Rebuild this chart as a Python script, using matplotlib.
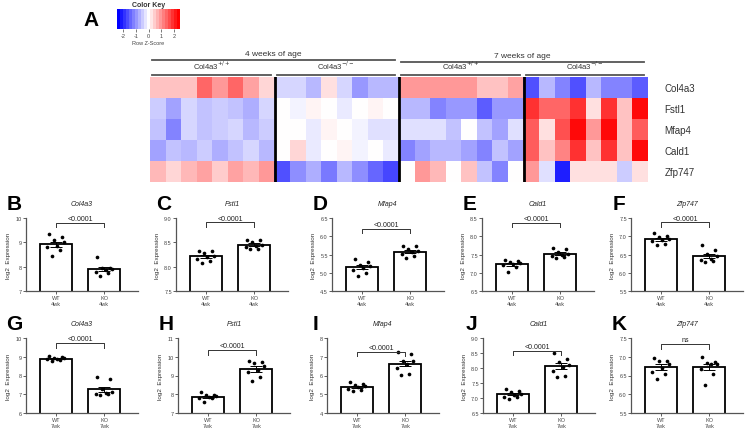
import numpy as np
import matplotlib.pyplot as plt
from matplotlib.colors import LinearSegmentedColormap
from matplotlib.transforms import blended_transform_factory

plt.rcParams['font.family'] = ['Liberation Sans', 'DejaVu Sans']

# ---- heatmap (row z-scores), rows = genes, 8 samples per group
genes = ['Col4a3', 'Fstl1', 'Mfap4', 'Cald1', 'Zfp747']
z_wt_4wk = [[0.6, 0.6, 0.6, 1.5, 1.0, 1.5, 0.9, 0.4],
            [-0.5, -0.9, -0.4, -0.6, -0.5, -0.6, -0.8, -0.4],
            [-0.6, -1.2, -0.4, -0.6, -0.5, -0.4, -0.7, -0.5],
            [-0.9, -0.6, -0.7, -0.5, -0.8, -0.6, -0.4, -0.7],
            [0.7, 0.4, 0.7, 0.9, 0.5, 0.9, 0.7, 1.0]]
z_ko_4wk = [[-0.4, -0.4, -0.7, 0.3, -0.4, -1.0, -0.7, -0.7],
            [0.0, -0.1, 0.1, 0.0, -0.2, 0.0, 0.1, 0.0],
            [0.0, 0.0, -0.2, 0.1, 0.0, -0.1, -0.3, -0.3],
            [0.0, 0.4, -0.2, 0.0, 0.1, -0.1, 0.0, -0.2],
            [-1.7, -1.1, -0.8, -1.3, -0.7, -1.1, -1.5, -1.8]]
z_wt_7wk = [[1.0, 1.0, 1.0, 1.0, 1.0, 0.6, 0.6, 0.9],
            [-0.7, -0.7, -1.2, -1.0, -1.0, -1.6, -1.0, -1.0],
            [-0.3, -0.3, -0.3, -0.6, 0.0, -0.6, -0.9, -0.3],
            [-1.2, -0.9, -0.7, -0.7, -0.9, -1.2, -0.6, -0.9],
            [0.0, 1.0, 0.7, 0.0, 0.6, -0.6, -1.2, 0.0]]
z_ko_7wk = [[-1.7, -0.7, -1.2, -1.7, -0.7, -1.2, -1.2, -1.6],
            [2.0, 1.5, 1.5, 2.0, 0.3, 2.0, 0.6, 2.4],
            [1.6, 0.3, 1.7, 2.4, 1.0, 2.4, 0.6, 1.6],
            [1.6, 0.6, 1.2, 2.0, 0.6, 2.0, 0.6, 2.4],
            [1.0, -0.3, -2.2, 0.3, 0.3, 0.3, -0.5, 0.3]]
key_ticks = [-2, -1, 0, 1, 2]

# ---- log2 expression per animal (WT, KO)
col4a3_4wk = ([9.35, 9.2, 9.1, 9.0, 8.85, 8.8, 8.7, 8.45], [8.4, 7.95, 7.95, 7.9, 7.85, 7.8, 7.75, 7.6])
fstl1_4wk = ([8.33, 8.32, 8.28, 8.22, 8.2, 8.16, 8.12, 8.07], [8.55, 8.54, 8.5, 8.45, 8.43, 8.4, 8.37, 8.36])
mfap4_4wk = ([5.38, 5.3, 5.22, 5.18, 5.12, 5.08, 5.0, 4.92], [5.74, 5.72, 5.64, 5.6, 5.56, 5.52, 5.47, 5.4])
cald1_4wk = ([7.35, 7.32, 7.3, 7.28, 7.25, 7.2, 7.15, 7.03], [7.68, 7.64, 7.56, 7.52, 7.5, 7.47, 7.44, 7.4])
zfp747_4wk = ([7.1, 7.02, 6.98, 6.92, 6.9, 6.86, 6.8, 6.76], [6.75, 6.62, 6.52, 6.45, 6.38, 6.35, 6.32, 6.3])
col4a3_7wk = ([9.02, 8.98, 8.95, 8.92, 8.9, 8.88, 8.82, 8.75], [7.9, 7.8, 7.3, 7.1, 7.05, 7.0, 7.0, 6.98])
fstl1_7wk = ([8.1, 7.98, 7.95, 7.92, 7.88, 7.82, 7.78, 7.6], [9.75, 9.72, 9.68, 9.5, 9.3, 9.2, 8.92, 8.7])
mfap4_7wk = ([5.68, 5.55, 5.48, 5.45, 5.38, 5.3, 5.22, 5.2], [7.28, 7.15, 6.8, 6.75, 6.6, 6.4, 6.1, 6.04])
cald1_7wk = ([7.3, 7.25, 7.2, 7.15, 7.1, 7.05, 7.02, 6.98], [8.5, 8.3, 8.2, 8.1, 8.05, 7.9, 7.75, 7.7])
zfp747_7wk = ([6.98, 6.9, 6.88, 6.8, 6.7, 6.6, 6.55, 6.4], [7.0, 6.85, 6.84, 6.82, 6.8, 6.68, 6.55, 6.25])
p_labels = ['<0.0001'] * 9 + ['ns']

W, H = 753, 435
fig = plt.figure(figsize=(W / 100, H / 100), dpi=100)


def px_axes(x0, y0, x1, y1):
    return fig.add_axes([x0 / W, 1 - y1 / H, (x1 - x0) / W, (y1 - y0) / H])


cmap = LinearSegmentedColormap.from_list('key', ['#0000ff', '#ffffff', '#ff0000'])

# ---- colour key
kax = px_axes(117, 10, 180, 30)
steps = np.linspace(-2.5, 2.5, 21)
kax.imshow([steps], cmap=cmap, vmin=-2.5, vmax=2.5, aspect='auto',
           extent=(-2.5, 2.5, 0, 1), interpolation='nearest')
kax.set_yticks([])
kax.set_xticks(key_ticks)
kax.set_xticklabels([str(t) for t in key_ticks], fontsize=4, color='#444')
kax.tick_params(axis='x', length=2, width=0.5, pad=1, colors='#444')
for s in kax.spines.values():
    s.set_visible(False)
kax.set_title('Color Key', fontsize=5, fontweight='bold', color='#333', pad=2)
kax.set_xlabel('Row Z-Score', fontsize=4, color='#444', labelpad=1)
fig.text(91 / W, 1 - 20 / H, 'A', fontsize=15, fontweight='bold', ha='center', va='center')

# ---- heatmap
Z = np.hstack([np.array(z_wt_4wk), np.array(z_ko_4wk), np.array(z_wt_7wk), np.array(z_ko_7wk)])
hax = px_axes(150, 78, 648, 183)
hax.imshow(Z, cmap=cmap, vmin=-2.5, vmax=2.5, aspect='auto', interpolation='nearest')
for xb in [7.5, 15.5, 23.5]:
    hax.axvline(xb, color='black', lw=2)
hax.set_xticks([])
hax.yaxis.tick_right()
hax.set_yticks(range(len(genes)))
hax.set_yticklabels(genes, fontsize=7, color='#333')
hax.tick_params(axis='y', length=0, pad=12)
for s in hax.spines.values():
    s.set_visible(False)

tr = blended_transform_factory(hax.transData, hax.transAxes)
sub_labels = ['Col4a3$^{+/+}$', 'Col4a3$^{-/-}$', 'Col4a3$^{+/+}$', 'Col4a3$^{-/-}$']
for g, lab in enumerate(sub_labels):
    a, b = g * 8 - 0.5 + 0.15, g * 8 + 7.5 - 0.25
    hax.plot([a, b], [1.02, 1.02], color='#555', lw=1.3, transform=tr, clip_on=False)
    hax.text((a + b) / 2, 1.06, lab, fontsize=5.5, color='#333', ha='center', va='bottom',
             transform=tr)
for g, lab in enumerate(['4 weeks of age', '7 weeks of age']):
    a, b = g * 16 - 0.5 + 0.15, g * 16 + 15.5 - 0.25
    yl = 1.165 - 0.02 * g
    hax.plot([a, b], [yl, yl], color='#555', lw=1.3, transform=tr, clip_on=False)
    hax.text((a + b) / 2, yl + 0.03, lab, fontsize=6, color='#333', ha='center', va='bottom',
             transform=tr)

# ---- bar panels
panels = [
    ('B', 'Col4a3', '4wk', col4a3_4wk, (7, 10), [7, 8, 9, 10], '%d'),
    ('C', 'Fstl1', '4wk', fstl1_4wk, (7.5, 9.0), [7.5, 8.0, 8.5, 9.0], '%.1f'),
    ('D', 'Mfap4', '4wk', mfap4_4wk, (4.5, 6.5), [4.5, 5.0, 5.5, 6.0, 6.5], '%.1f'),
    ('E', 'Cald1', '4wk', cald1_4wk, (6.5, 8.5), [6.5, 7.0, 7.5, 8.0, 8.5], '%.1f'),
    ('F', 'Zfp747', '4wk', zfp747_4wk, (5.5, 7.5), [5.5, 6.0, 6.5, 7.0, 7.5], '%.1f'),
    ('G', 'Col4a3', '7wk', col4a3_7wk, (6, 10), [6, 7, 8, 9, 10], '%d'),
    ('H', 'Fstl1', '7wk', fstl1_7wk, (7, 11), [7, 8, 9, 10, 11], '%d'),
    ('I', 'Mfap4', '7wk', mfap4_7wk, (4, 8), [4, 5, 6, 7, 8], '%d'),
    ('J', 'Cald1', '7wk', cald1_7wk, (6.5, 9.0), [6.5, 7.0, 7.5, 8.0, 8.5, 9.0], '%.1f'),
    ('K', 'Zfp747', '7wk', zfp747_7wk, (5.5, 7.5), [5.5, 6.0, 6.5, 7.0, 7.5], '%.1f'),
]
lefts = [26, 176, 332, 482, 631, 26, 178, 327, 483, 631]
rows_y = [(219, 292), (339, 414)]
bracket_frac = [0.93, 0.94, 0.85, 0.93, 0.94, 0.93, 0.84, 0.82, 0.83, 0.92]
jitter = np.array([-0.14, 0.12, -0.04, 0.16, 0.03, -0.18, 0.08, -0.09])

for i, (letter, gene, age, (wt, ko), ylim, yt, fmt) in enumerate(panels):
    y0, y1 = rows_y[i // 5]
    x0 = lefts[i]
    ax = px_axes(x0, y0, x0 + 112, y1)
    groups = [np.array(wt), np.array(ko)]
    means = [g.mean() for g in groups]
    sems = [g.std(ddof=1) / np.sqrt(len(g)) for g in groups]
    ax.bar([0, 1], means, width=0.66, color='white', edgecolor='black', linewidth=1.3, zorder=1)
    for k, g in enumerate(groups):
        ax.scatter(k + jitter[:len(g)], g, s=7, color='black', zorder=2, linewidths=0)
    ax.errorbar([0, 1], means, yerr=sems, fmt='none', ecolor='black', elinewidth=0.7,
                capsize=4, capthick=0.7, zorder=3)
    ax.set_xlim(-0.62, 1.7)
    ax.set_ylim(*ylim)
    ax.set_yticks(yt)
    ax.set_yticklabels([fmt % t for t in yt])
    ax.set_xticks([0, 1])
    ax.set_xticklabels(['WT\n' + age, 'KO\n' + age])
    ax.tick_params(labelsize=4, length=2, width=0.6, colors='#444', pad=1)
    for s in ['top', 'right']:
        ax.spines[s].set_visible(False)
    for s in ['left', 'bottom']:
        ax.spines[s].set_color('#555')
        ax.spines[s].set_linewidth(0.9)
    ax.set_ylabel('log2  Expression', fontsize=4.5, color='#333', labelpad=3)
    ax.set_title(gene, fontsize=5, fontstyle='italic', color='#222', pad=9)
    span = ylim[1] - ylim[0]
    yb = ylim[0] + bracket_frac[i] * span
    tk = 0.06 * span
    ax.plot([0, 0, 1, 1], [yb - tk, yb, yb, yb - tk], color='#333', lw=0.7, clip_on=False)
    ax.text(0.5, yb + 0.01 * span, p_labels[i], fontsize=5, color='#222', ha='center', va='bottom')
    fig.text((x0 - 12) / W, 1 - (y0 - 15) / H, letter, fontsize=15, fontweight='bold',
             ha='center', va='center')

fig.savefig('out.png', dpi=100)
